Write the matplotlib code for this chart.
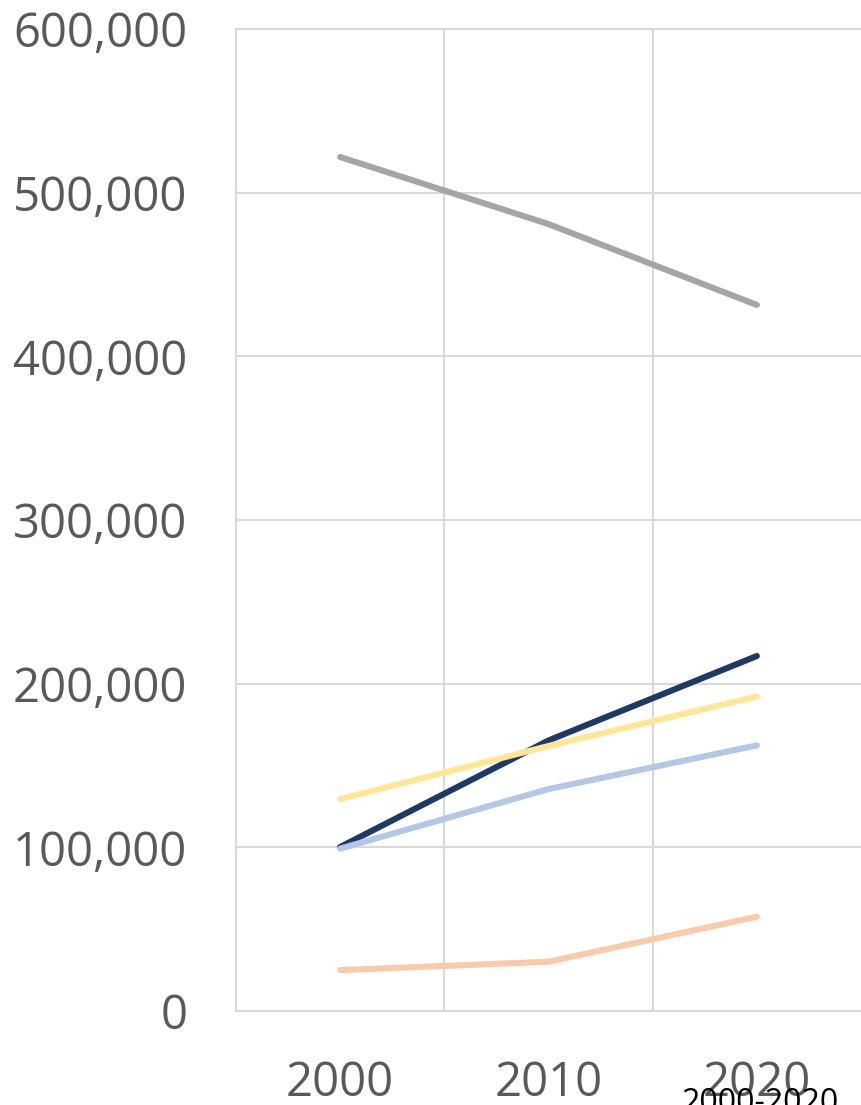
import matplotlib
matplotlib.use("Agg")
import matplotlib.pyplot as plt
from matplotlib.ticker import FuncFormatter, FixedLocator

years = ["2000", "2010", "2020"]
series_gray = [521800, 480800, 431400]
series_navy = [100200, 165300, 216900]
series_yellow = [129500, 161900, 192200]
series_lightblue = [99200, 135600, 162300]
series_peach = [25000, 30100, 57600]
y_ticks = [0, 100000, 200000, 300000, 400000, 500000, 600000]
extra_label = "2000-2020"

W, H = 861, 1105
fig = plt.figure(figsize=(W / 100, H / 100), dpi=100)
left, right = 236 / W, 1.0
bottom, top = 1 - 1011 / H, 1 - 29 / H
ax = fig.add_axes([left, bottom, right - left, top - bottom])

grid_c = "#d9d9d9"
x = list(range(len(years)))
lw = 4.4
for vals, col, z in [
    (series_gray, "#a5a5a5", 3),
    (series_navy, "#203864", 4),
    (series_yellow, "#ffe699", 5),
    (series_lightblue, "#b4c7e7", 6),
    (series_peach, "#f8cbad", 7),
]:
    ax.plot(x, vals, color=col, lw=lw, solid_capstyle="round", solid_joinstyle="round", zorder=z)

ax.set_xlim(-0.5, len(years) - 0.5)
ax.set_ylim(0, 600000)
ax.set_yticks(y_ticks)
ax.yaxis.set_major_formatter(FuncFormatter(lambda v, p: f"{int(v):,}"))
ax.set_xticks(x)
ax.set_xticklabels(years)
ax.xaxis.set_minor_locator(FixedLocator([i + 0.5 for i in range(len(years) - 1)]))

ax.grid(True, which="major", axis="y", color=grid_c, lw=1.5, zorder=0)
ax.grid(True, which="minor", axis="x", color=grid_c, lw=1.5, zorder=0)
for s in ["left", "top", "bottom"]:
    ax.spines[s].set_color(grid_c)
    ax.spines[s].set_linewidth(1.5)
ax.spines["right"].set_visible(False)

ax.tick_params(axis="both", which="both", length=0)
ax.tick_params(axis="y", pad=35, labelsize=34, labelcolor="#595959")
ax.tick_params(axis="x", pad=35, labelsize=34, labelcolor="#595959")
for lab in ax.get_xticklabels() + ax.get_yticklabels():
    lab.set_fontfamily("Open Sans")

fig.text(760 / W, 1 - 1112 / H, extra_label, ha="center", va="baseline",
         fontsize=23, color="black", family="Open Sans")

fig.savefig("out.png", dpi=100)
